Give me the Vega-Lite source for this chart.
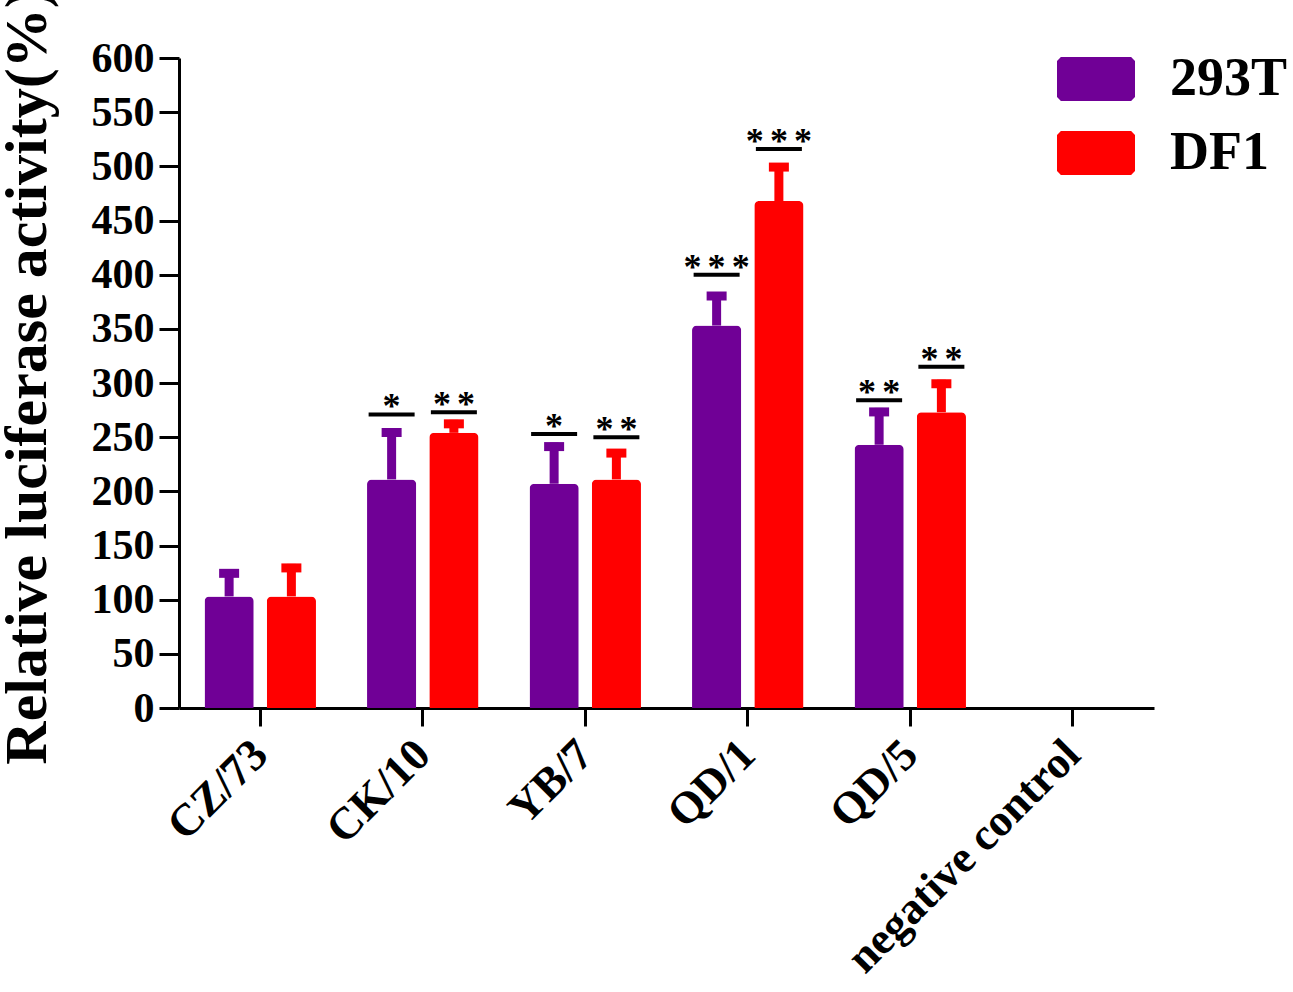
{
  "$schema": "https://vega.github.io/schema/vega-lite/v6.json",
  "autosize": {"type": "none"},
  "padding": {"left": 179, "top": 58, "right": 139, "bottom": 284},
  "width": 975,
  "height": 650,
  "data": {
    "values": [
      {"strain": "CZ/73", "cell": "293T", "value": 103, "upper": 128, "sig": null, "sigY": null},
      {"strain": "CZ/73", "cell": "DF1", "value": 103, "upper": 133, "sig": null, "sigY": null},
      {"strain": "CK/10", "cell": "293T", "value": 211, "upper": 258, "sig": "*", "sigY": 271},
      {"strain": "CK/10", "cell": "DF1", "value": 254, "upper": 266, "sig": "*\u200a\u200a*", "sigY": 273},
      {"strain": "YB/7", "cell": "293T", "value": 207, "upper": 245, "sig": "*", "sigY": 253},
      {"strain": "YB/7", "cell": "DF1", "value": 211, "upper": 239, "sig": "*\u200a\u200a*", "sigY": 250},
      {"strain": "QD/1", "cell": "293T", "value": 353, "upper": 384, "sig": "*\u200a\u200a*\u200a\u200a*", "sigY": 400},
      {"strain": "QD/1", "cell": "DF1", "value": 468, "upper": 503, "sig": "*\u200a\u200a*\u200a\u200a*", "sigY": 516},
      {"strain": "QD/5", "cell": "293T", "value": 243, "upper": 277, "sig": "*\u200a\u200a*", "sigY": 284},
      {"strain": "QD/5", "cell": "DF1", "value": 273, "upper": 303, "sig": "*\u200a\u200a*", "sigY": 315}
    ]
  },
  "encoding": {
    "x": {
      "field": "strain",
      "type": "nominal",
      "sort": null,
      "scale": {
        "domain": ["CZ/73", "CK/10", "YB/7", "QD/1", "QD/5", "negative control"],
        "paddingInner": 0,
        "paddingOuter": 0
      },
      "axis": {
        "title": null,
        "labelAngle": -45,
        "labelAlign": "right",
        "labelBaseline": "middle",
        "labelFontSize": 45,
        "labelFontWeight": "bold",
        "labelPadding": 21,
        "tickSize": 18,
        "tickWidth": 3,
        "domainWidth": 3,
        "labelLimit": 500
      }
    },
    "xOffset": {
      "field": "cell",
      "type": "nominal",
      "scale": {"paddingInner": 0.21, "paddingOuter": 0.41}
    }
  },
  "layer": [
    {
      "mark": {"type": "bar", "cornerRadiusTopLeft": 5, "cornerRadiusTopRight": 5},
      "encoding": {
        "y": {
          "field": "value",
          "type": "quantitative",
          "scale": {"domain": [0, 600], "nice": false},
          "axis": {
            "title": "Relative luciferase activity(%)",
            "values": [0, 50, 100, 150, 200, 250, 300, 350, 400, 450, 500, 550, 600],
            "grid": false,
            "labelFontSize": 42,
            "labelFontWeight": "bold",
            "labelPadding": 5,
            "tickSize": 20,
            "tickWidth": 3,
            "domainWidth": 3,
            "titleFontSize": 60,
            "titleFontWeight": "bold",
            "titleAngle": -90,
            "titleAlign": "center",
            "titleBaseline": "alphabetic",
            "titleX": -134,
            "titleY": 318
          }
        },
        "color": {
          "field": "cell",
          "type": "nominal",
          "scale": {"domain": ["293T", "DF1"], "range": ["#700096", "#ff0000"]},
          "legend": {
            "title": null,
            "orient": "none",
            "legendX": 878,
            "legendY": -18,
            "padding": 0,
            "symbolType": "M-0.9,-0.564L0.9,-0.564L1,-0.46L1,0.46L0.9,0.564L-0.9,0.564L-1,0.46L-1,-0.46Z",
            "symbolSize": 6084,
            "symbolStrokeWidth": 0,
            "symbolOpacity": 1,
            "labelFontSize": 54,
            "labelFontWeight": "bold",
            "labelOffset": 35,
            "rowPadding": 8
          }
        }
      }
    },
    {
      "mark": {"type": "rule", "strokeWidth": 9},
      "encoding": {
        "y": {"field": "value", "type": "quantitative"},
        "y2": {"field": "upper"},
        "color": {"field": "cell", "type": "nominal"}
      }
    },
    {
      "mark": {"type": "tick", "orient": "horizontal", "size": 20, "thickness": 9, "yOffset": 4, "opacity": 1},
      "encoding": {
        "y": {"field": "upper", "type": "quantitative"},
        "color": {"field": "cell", "type": "nominal"}
      }
    },
    {
      "transform": [{"filter": "datum.sig != null"}],
      "mark": {"type": "tick", "orient": "horizontal", "thickness": 4, "color": "black", "opacity": 1},
      "encoding": {
        "y": {"field": "sigY", "type": "quantitative"},
        "size": {
          "field": "sig",
          "type": "ordinal",
          "scale": {"domain": ["*", "*\u200a\u200a*", "*\u200a\u200a*\u200a\u200a*"], "range": [46, 46, 66]},
          "legend": null
        }
      }
    },
    {
      "transform": [{"filter": "datum.sig != null"}],
      "mark": {"type": "text", "fontSize": 36, "fontWeight": "bold", "baseline": "alphabetic", "dy": 4, "color": "black"},
      "encoding": {
        "y": {"field": "sigY", "type": "quantitative"},
        "text": {"field": "sig"}
      }
    }
  ],
  "config": {
    "font": "Liberation Serif",
    "view": {"stroke": null},
    "axis": {"domainColor": "black", "tickColor": "black", "labelColor": "black", "titleColor": "black"},
    "legend": {"labelColor": "black"}
  }
}
